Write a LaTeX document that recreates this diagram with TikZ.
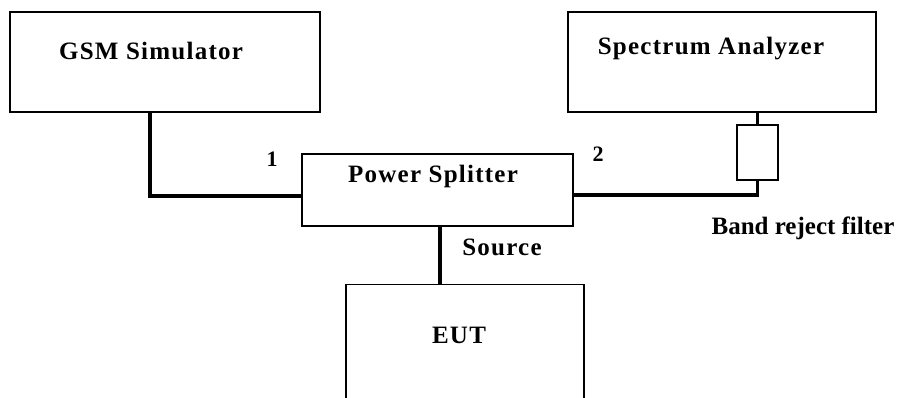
\documentclass[tikz,border=0pt]{standalone}
\usepackage{fontspec}
\setmainfont{Liberation Serif}
\newfontfamily\boxfont[LetterSpace=5]{Liberation Serif}
\usetikzlibrary{positioning,calc}

\tikzset{
  unit/.style={draw=black,line width=1.4pt,inner sep=0pt},
  filterbox/.style={draw=black,line width=2.6pt,inner sep=0pt,minimum width=41pt,minimum height=55pt},
  wire/.style={black,line width=3.8pt},
  boxlabel/.style={anchor=base,font=\boxfont\bfseries\fontsize{25}{28}\selectfont},
  portlabel/.style={anchor=base,font=\bfseries\fontsize{22}{24}\selectfont},
}

\begin{document}
\begin{tikzpicture}[x=1pt,y=-1pt]
\useasboundingbox (0,0) rectangle (900,398);
\clip (0,0) rectangle (900,398);
% boxes
\node[unit,minimum width=310pt,minimum height=100pt] (gsm) at (165,62) {};
\node[unit,minimum width=308pt,minimum height=100pt] (sa) at (722,62) {};
\node[unit,minimum width=271pt,minimum height=72pt] (ps) at (437.5,190) {};
\node[unit,minimum width=238pt,minimum height=160pt,anchor=north] (eut) at (465,284) {};
\node[filterbox] (filt) at (757.5,152.5) {};
% box texts
\node[boxlabel] (gsmtxt) at (151,60) {GSM Simulator};
\node[boxlabel] (satxt) at (711,55) {Spectrum Analyzer};
\node[boxlabel] (pstxt) at (433,183) {Power Splitter};
\node[boxlabel] (euttxt) at (459,343) {EUT};
% cables
\draw[wire] ([xshift=-15pt]gsm.south) |- ([yshift=-6pt]ps.west);
\draw[wire] ([yshift=-5pt]ps.east) -| (filt.south);
\draw[wire] (filt.north) -- (filt.north |- sa.south);
\draw[wire] ([xshift=2.5pt]ps.south) -- ([xshift=2.5pt]ps.south |- eut.north);
% port labels
\node[portlabel] (one) at (272,167) {1};
\node[portlabel] (two) at (598,162) {2};
\node[boxlabel] (src) at (502,255) {Source};
\node[anchor=base,font=\bfseries\fontsize{25}{28}\selectfont] (brf) at (803,235) {Band reject filter};
\end{tikzpicture}
\end{document}
